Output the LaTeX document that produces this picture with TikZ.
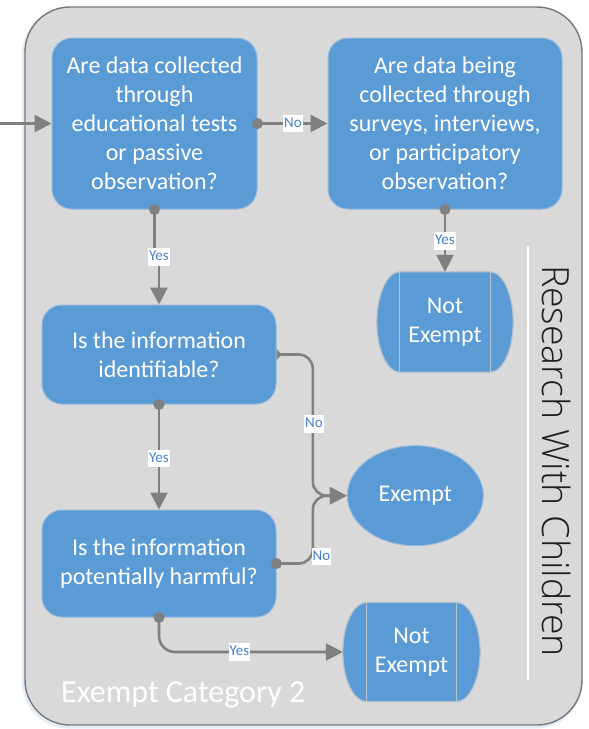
\documentclass[tikz,border=0pt]{standalone}
\usepackage{fontspec}
\setmainfont{Carlito}
\IfFontExistsTF{Open Sans Light}
  {\newfontfamily\sidefont{Open Sans Light}}
  {\IfFontExistsTF{FiraSans-Light.otf}
    {\newfontfamily\sidefont{FiraSans-Light.otf}}
    {\newfontfamily\sidefont{Open Sans}}}
\usetikzlibrary{arrows.meta,shapes.geometric,calc}

\definecolor{panelgray}{RGB}{217,217,217}
\definecolor{panelline}{RGB}{120,120,120}
\definecolor{boxblue}{RGB}{91,155,213}
\definecolor{boxedge}{RGB}{150,185,220}
\definecolor{linkgray}{RGB}{128,128,128}
\definecolor{labelblue}{RGB}{70,130,200}
\definecolor{termline}{RGB}{185,195,205}
\definecolor{sidetext}{RGB}{30,30,30}

\tikzset{
  question/.style={rectangle, rounded corners=20pt, fill=boxblue, draw=boxedge,
    line width=1pt, text=white, align=center, inner sep=0pt,
    font=\fontsize{24}{29}\selectfont},
  outcome/.style={ellipse, fill=boxblue, draw=boxedge, line width=1pt,
    text=white, align=center, inner sep=0pt, font=\fontsize{24}{29}\selectfont},
  terminal/.style={rectangle, inner sep=0pt, text=white, align=center,
    font=\fontsize{24}{29}\selectfont},
  link/.style={draw=linkgray, line width=2.6pt, -{Triangle[length=17pt,width=17pt]}},
  answer/.style={fill=white, text=labelblue, inner xsep=1pt, inner ysep=2pt,
    text height=10.5pt, text depth=3pt, font=\fontsize{15}{18}\selectfont},
}

% Terminal with bulging sides: flat top and bottom, half-ellipse ends,
% and a thin line where each end meets the flat part.
\newcommand\termshape[2]{%
  \path[fill=boxblue, draw=termline, line width=1.2pt]
    ($(#1.north west)+(#2,0)$) -- ($(#1.north east)+(-#2,0)$)
    .. controls ($(#1.north east)+(-0.4477*#2,0)$) and ($(#1.east)!0.5523!(#1.north east)$) .. (#1.east)
    .. controls ($(#1.east)!0.5523!(#1.south east)$) and ($(#1.south east)+(-0.4477*#2,0)$) .. ($(#1.south east)+(-#2,0)$)
    -- ($(#1.south west)+(#2,0)$)
    .. controls ($(#1.south west)+(0.4477*#2,0)$) and ($(#1.west)!0.5523!(#1.south west)$) .. (#1.west)
    .. controls ($(#1.west)!0.5523!(#1.north west)$) and ($(#1.north west)+(0.4477*#2,0)$) .. cycle;
  \draw[termline, line width=1.2pt]
    ($(#1.north west)+(#2,0)$) -- ($(#1.south west)+(#2,0)$)
    ($(#1.north east)+(-#2,0)$) -- ($(#1.south east)+(-#2,0)$);
}

\begin{document}
\begin{tikzpicture}[x=1pt,y=-1pt]
\useasboundingbox (0,0) rectangle (589,729);

% panel
\draw[boxblue!35, line width=3pt, opacity=0.5, rounded corners=45pt] (23.5,9) rectangle (581,727);
\draw[fill=panelgray, draw=panelline, line width=1.4pt, rounded corners=45pt] (25,7) rectangle (582,725);

% decisions
\node[question, minimum width=205pt, minimum height=171pt] (q1) at (154.5,123.5)
  {Are data collected\\through\\educational tests\\or passive\\observation?};
\node[question, minimum width=234pt, minimum height=171pt] (q2) at (445,123.5)
  {Are data being\\collected through\\surveys, interviews,\\or participatory\\observation?};
\node[question, minimum width=234pt, minimum height=99pt] (q3) at (159,354.5)
  {Is the information\\identifiable?};
\node[question, minimum width=234pt, minimum height=107pt] (q4) at (159,563.5)
  {Is the information\\potentially harmful?};

% outcomes
\node[outcome, minimum width=136pt, minimum height=100pt] (ex) at (415.3,495.7) {Exempt};
\node[terminal, minimum width=136pt, minimum height=100pt] (ne1) at (445,322) {};
\termshape{ne1}{23}
\node[terminal] (ne1t) at (ne1) {Not\\Exempt};
\node[terminal, minimum width=137pt, minimum height=99pt] (ne2) at (411.5,652) {};
\termshape{ne2}{24}
\node[terminal] (ne2t) at (ne2) {Not\\Exempt};

% connectors
\coordinate (in) at (0,123.5);
\coordinate (jn) at ($(ex.west)+(-34,0)$);
\draw[link] (in) -- (q1.west);
\draw[link] (q1.east) -- (q2.west);
\draw[link] (q2.south) -- (ne1.north);
\draw[link] (q1.south) -- ++(0,47) -| (q3.north);
\draw[link] (q3.south) -- (q4.north);
\draw[link, {Triangle[reversed,length=5pt,width=11pt]}-{Triangle[length=17pt,width=17pt]},
  rounded corners=14pt] (q3.east) -| (jn) -- (ex.west);
\draw[link, rounded corners=14pt] (q4.east) -| (jn) -- (ex.west);
\draw[link, rounded corners=16pt] (q4.south) |- (ne2.west);
\foreach \p in {q1.east, q1.south, q2.south, q3.south, q4.east, q4.south}
  \fill[linkgray] (\p) circle[radius=5.5pt];

% answers
\node[answer] (a1) at (293,123.5) {No};
\node[answer] (a2) at (445,241) {Yes};
\node[answer] (a3) at (159,257) {Yes};
\node[answer] (a4) at (159,458.5) {Yes};
\node[answer] (a5) at (314,424) {No};
\node[answer] (a6) at (321.5,556.5) {No};
\node[answer] (a7) at (239.5,652) {Yes};

% side title and category caption
\draw[white, line width=2pt] (528,246) -- (528,680);
\node[rotate=-90, text=sidetext, inner sep=0pt,
  font=\sidefont\fontsize{37.5}{42}\selectfont] (side) at (557,461) {Research With Children};
\node[anchor=base west, inner sep=0pt, text=white,
  font=\fontsize{32}{38}\selectfont] (cat) at (61,702) {Exempt Category 2};
\end{tikzpicture}
\end{document}
